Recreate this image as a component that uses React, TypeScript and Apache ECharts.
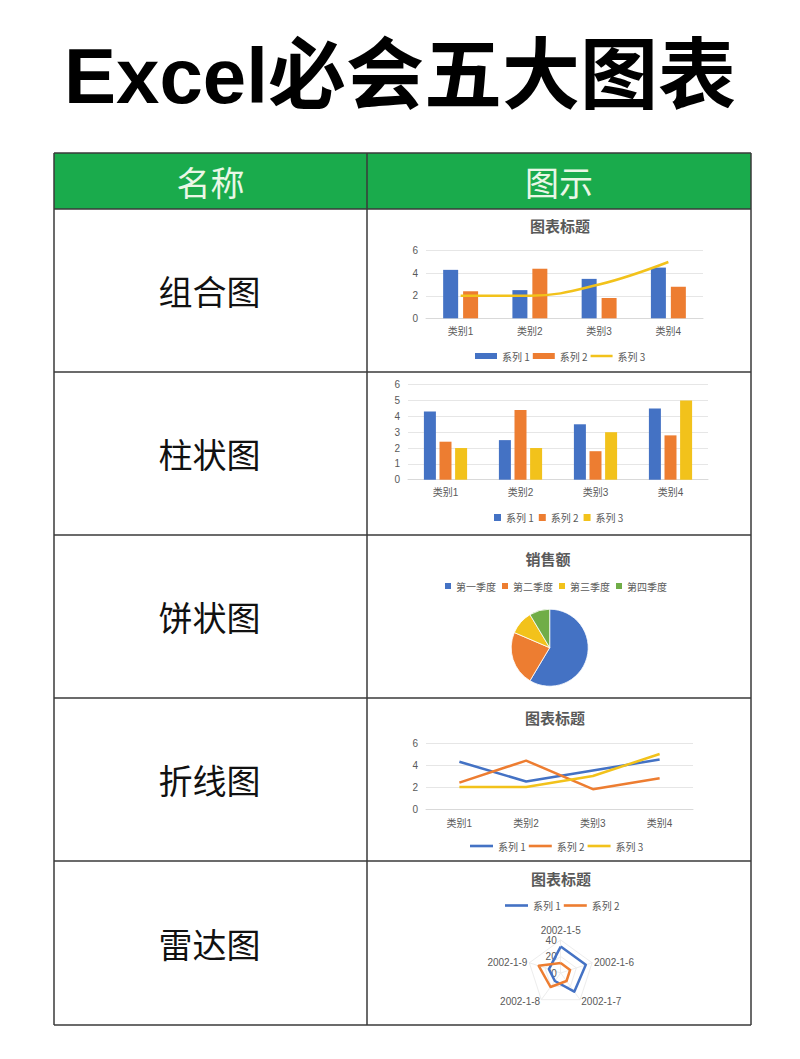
import React, { useEffect, useRef } from 'react';
import * as echarts from 'echarts';

// ---------- data ----------
const pageTitle = 'Excel必会五大图表';
const headerLabels = ['名称', '图示'];
const rowLabels = ['组合图', '柱状图', '饼状图', '折线图', '雷达图'];
const chartTitles = ['图表标题', '销售额', '图表标题', '图表标题'];

const categories = ['类别1', '类别2', '类别3', '类别4'];
const seriesNames = ['系列 1', '系列 2', '系列 3'];
const series1 = [4.3, 2.5, 3.5, 4.5];
const series2 = [2.4, 4.4, 1.8, 2.8];
const series3 = [2, 2, 3, 5];

const quarters = ['第一季度', '第二季度', '第三季度', '第四季度'];
const sales = [8.2, 3.2, 1.4, 1.2];

const radarDates = ['2002-1-5', '2002-1-6', '2002-1-7', '2002-1-8', '2002-1-9'];
const radarSeries1 = [32, 32, 28, 12, 15];
const radarSeries2 = [12, 12, 12, 21, 28];
const radarMax = 40;

// ---------- styles ----------
const FONT = '"Liberation Sans", "Noto Sans CJK SC", sans-serif';
const CJK = '"Noto Sans CJK SC", "Liberation Sans", sans-serif';
const BLUE = '#4472C4';
const ORANGE = '#ED7D31';
const YELLOW = '#F2C21B';
const GREEN = '#70AD47';
const GREY_TEXT = '#595959';
const BORDER = '#3a3a3a';

const TABLE_L = 54;
const TABLE_R = 751;
const TABLE_MID = 367;
const rowLinesY = [153, 209, 372, 535, 698, 861, 1025];

const axisLabelStyle = { color: GREY_TEXT, fontSize: 10, fontFamily: FONT };

// ECharts radar runs counter-clockwise; Excel runs clockwise -> visit axes in reverse after the first
const radarOrder = radarDates.map((_, i) => (i === 0 ? 0 : radarDates.length - i));

function xCat(gridIndex: number, margin: number) {
  return {
    type: 'category',
    gridIndex,
    data: categories,
    axisLine: { lineStyle: { color: '#d9d9d9' } },
    axisTick: { show: false },
    axisLabel: { ...axisLabelStyle, margin },
  };
}
function yVal(gridIndex: number, interval: number) {
  return {
    type: 'value',
    gridIndex,
    min: 0,
    max: 6,
    interval,
    axisLine: { show: false },
    axisTick: { show: false },
    splitLine: { lineStyle: { color: '#e6e6e6' } },
    axisLabel: { ...axisLabelStyle, margin: 8 },
  };
}

const legendText = { color: GREY_TEXT, fontSize: 10, fontFamily: CJK };
const lineIcon = 'path://M0,0H22V2.5H0Z';

function buildOption() {
  const graphic: any[] = [];
  // header background
  graphic.push({
    type: 'rect',
    shape: { x: TABLE_L, y: rowLinesY[0], width: TABLE_R - TABLE_L, height: rowLinesY[1] - rowLinesY[0] },
    style: { fill: '#1aab4c' },
    z: -10,
  });
  // horizontal lines
  rowLinesY.forEach((y) => {
    graphic.push({
      type: 'line',
      shape: { x1: TABLE_L, y1: y, x2: TABLE_R, y2: y },
      style: { stroke: BORDER, lineWidth: 1.5 },
    });
  });
  // vertical lines
  [TABLE_L, TABLE_MID, TABLE_R].forEach((x) => {
    graphic.push({
      type: 'line',
      shape: { x1: x, y1: rowLinesY[0], x2: x, y2: rowLinesY[rowLinesY.length - 1] },
      style: { stroke: BORDER, lineWidth: 1.5 },
    });
  });
  // page title
  graphic.push({
    type: 'text',
    x: 400,
    y: 76,
    style: {
      text: pageTitle,
      fill: '#000',
      fontSize: 78,
      fontWeight: 'bold',
      fontFamily: FONT,
      align: 'center',
      verticalAlign: 'middle',
    },
  });
  // header labels
  const colCenters = [(TABLE_L + TABLE_MID) / 2, (TABLE_MID + TABLE_R) / 2];
  headerLabels.forEach((t, i) => {
    graphic.push({
      type: 'text',
      x: colCenters[i],
      y: 181,
      style: { text: t, fill: '#eaf7e6', fontSize: 34, fontFamily: CJK, align: 'center', verticalAlign: 'middle' },
    });
  });
  // row labels
  rowLabels.forEach((t, i) => {
    graphic.push({
      type: 'text',
      x: colCenters[0] - 1,
      y: (rowLinesY[i + 1] + rowLinesY[i + 2]) / 2,
      style: { text: t, fill: '#111', fontSize: 34, fontFamily: CJK, align: 'center', verticalAlign: 'middle' },
    });
  });
  // chart titles
  const titlePos = [
    [560, 225],
    [548, 558],
    [555, 717],
    [561, 878],
  ];
  chartTitles.forEach((t, i) => {
    graphic.push({
      type: 'text',
      x: titlePos[i][0],
      y: titlePos[i][1],
      style: {
        text: t,
        fill: GREY_TEXT,
        fontSize: 15,
        fontWeight: 'bold',
        fontFamily: CJK,
        align: 'center',
        verticalAlign: 'middle',
      },
    });
  });

  return {
    animation: false,
    backgroundColor: '#ffffff',
    textStyle: { fontFamily: FONT },
    graphic,
    grid: [
      { left: 426, width: 277, top: 250.7, height: 67.6 },
      { left: 408, width: 300, top: 384.7, height: 95 },
      { left: 426, width: 267, top: 743, height: 66 },
    ],
    xAxis: [xCat(0, 8), xCat(1, 8), xCat(2, 9)],
    yAxis: [yVal(0, 2), yVal(1, 1), yVal(2, 2)],
    legend: [
      {
        left: 475,
        top: 351,
        padding: 0,
        itemWidth: 22,
        itemHeight: 6,
        itemGap: 3,
        textStyle: legendText,
        data: [
          { name: seriesNames[0], icon: 'rect', itemStyle: { color: BLUE, borderWidth: 0 } },
          { name: seriesNames[1], icon: 'rect', itemStyle: { color: ORANGE, borderWidth: 0 } },
          { name: seriesNames[2], icon: lineIcon, itemStyle: { color: YELLOW, borderWidth: 0 } },
        ],
      },
      {
        left: 494,
        top: 512.5,
        padding: 0,
        itemWidth: 7,
        itemHeight: 7,
        itemGap: 5,
        textStyle: legendText,
        data: [
          { name: seriesNames[0], icon: 'rect', itemStyle: { color: BLUE, borderWidth: 0 } },
          { name: seriesNames[1], icon: 'rect', itemStyle: { color: ORANGE, borderWidth: 0 } },
          { name: seriesNames[2], icon: 'rect', itemStyle: { color: YELLOW, borderWidth: 0 } },
        ],
      },
      {
        left: 445,
        top: 581,
        padding: 0,
        itemWidth: 6,
        itemHeight: 6,
        itemGap: 6,
        textStyle: legendText,
        data: quarters.map((q, i) => ({
          name: q,
          icon: 'rect',
          itemStyle: { color: [BLUE, ORANGE, YELLOW, GREEN][i], borderWidth: 0 },
        })),
      },
      {
        left: 470,
        top: 841,
        padding: 0,
        itemWidth: 23,
        itemHeight: 6,
        itemGap: 3,
        textStyle: legendText,
        data: [
          { name: seriesNames[0], icon: lineIcon, itemStyle: { color: BLUE, borderWidth: 0 } },
          { name: seriesNames[1], icon: lineIcon, itemStyle: { color: ORANGE, borderWidth: 0 } },
          { name: seriesNames[2], icon: lineIcon, itemStyle: { color: YELLOW, borderWidth: 0 } },
        ],
      },
      {
        left: 505,
        top: 900.5,
        padding: 0,
        itemWidth: 23,
        itemHeight: 6,
        itemGap: 3,
        textStyle: legendText,
        data: [
          { name: seriesNames[0], icon: lineIcon, itemStyle: { color: BLUE, borderWidth: 0 } },
          { name: seriesNames[1], icon: lineIcon, itemStyle: { color: ORANGE, borderWidth: 0 } },
        ],
      },
    ],
    radar: {
      center: [560.7, 973],
      radius: 33,
      startAngle: 90,
      splitNumber: 2,
      shape: 'polygon',
      axisNameGap: 2,
      axisName: { color: GREY_TEXT, fontSize: 10, fontFamily: FONT },
      axisLine: { lineStyle: { color: '#ededed' } },
      splitLine: { lineStyle: { color: '#ededed' } },
      splitArea: { show: false },
      axisLabel: { show: false },
      indicator: radarOrder.map((k, i) =>
        i === 0
          ? {
              name: radarDates[k],
              min: 0,
              max: radarMax,
              axisLabel: { show: true, color: GREY_TEXT, fontSize: 10, fontFamily: FONT, margin: 4 },
            }
          : { name: radarDates[k], min: 0, max: radarMax }
      ),
    },
    series: [
      // combo chart
      {
        type: 'bar',
        name: seriesNames[0],
        xAxisIndex: 0,
        yAxisIndex: 0,
        data: series1,
        barWidth: 15,
        barGap: '33%',
        itemStyle: { color: BLUE },
      },
      {
        type: 'bar',
        name: seriesNames[1],
        xAxisIndex: 0,
        yAxisIndex: 0,
        data: series2,
        barWidth: 15,
        barGap: '33%',
        itemStyle: { color: ORANGE },
      },
      {
        type: 'line',
        name: seriesNames[2],
        xAxisIndex: 0,
        yAxisIndex: 0,
        data: series3,
        smooth: 0.4,
        symbol: 'none',
        lineStyle: { color: YELLOW, width: 2.5 },
        itemStyle: { color: YELLOW },
        z: 5,
      },
      // clustered bar chart
      ...[series1, series2, series3].map((d, i) => ({
        type: 'bar',
        name: seriesNames[i],
        xAxisIndex: 1,
        yAxisIndex: 1,
        data: d,
        barWidth: 12,
        barGap: '30%',
        itemStyle: { color: [BLUE, ORANGE, YELLOW][i] },
      })),
      // pie chart
      {
        type: 'pie',
        name: '销售额',
        center: [549.7, 647.7],
        radius: 38.5,
        startAngle: 90,
        clockwise: true,
        label: { show: false },
        labelLine: { show: false },
        itemStyle: { borderColor: '#ffffff', borderWidth: 0.8 },
        data: quarters.map((q, i) => ({
          name: q,
          value: sales[i],
          itemStyle: { color: [BLUE, ORANGE, YELLOW, GREEN][i] },
        })),
      },
      // line chart
      ...[series1, series2, series3].map((d, i) => ({
        type: 'line',
        name: seriesNames[i],
        xAxisIndex: 2,
        yAxisIndex: 2,
        data: d,
        symbol: 'none',
        lineStyle: { color: [BLUE, ORANGE, YELLOW][i], width: 2.5 },
        itemStyle: { color: [BLUE, ORANGE, YELLOW][i] },
      })),
      // radar chart
      {
        type: 'radar',
        symbol: 'none',
        data: [
          {
            name: seriesNames[0],
            value: radarOrder.map((k) => radarSeries1[k]),
            lineStyle: { color: BLUE, width: 2.5 },
            itemStyle: { color: BLUE },
          },
          {
            name: seriesNames[1],
            value: radarOrder.map((k) => radarSeries2[k]),
            lineStyle: { color: ORANGE, width: 2.5 },
            itemStyle: { color: ORANGE },
          },
        ],
      },
    ],
  };
}

export default function App() {
  const ref = useRef<HTMLDivElement>(null);
  useEffect(() => {
    document.body.style.margin = '0';
    const chart = echarts.init(ref.current as HTMLDivElement, null, { renderer: 'svg' });
    chart.setOption(buildOption() as any);
    return () => {
      chart.dispose();
    };
  }, []);
  return (
    <div
      ref={ref}
      style={{ position: 'absolute', left: 0, top: 0, width: 800, height: 1059, background: '#ffffff' }}
    />
  );
}
